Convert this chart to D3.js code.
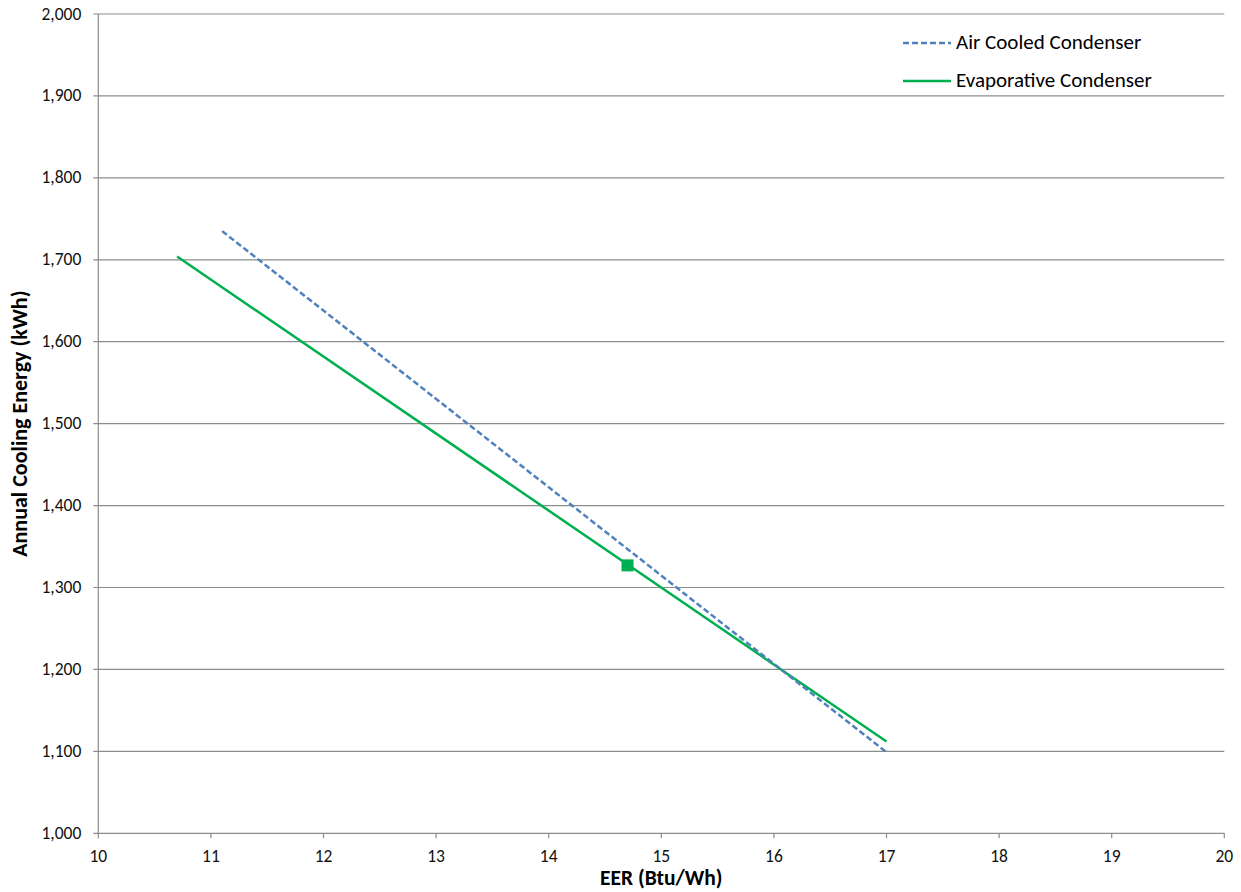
<!DOCTYPE html>
<html><head><meta charset="utf-8">
<script src="https://cdn.jsdelivr.net/npm/d3@7"></script>
<style>body{margin:0;background:#fff;}text{font-family:Carlito,Calibri,"Open Sans","Noto Sans",sans-serif;}</style>
</head><body><svg id="c" width="1241" height="892"></svg>
<script>
const airX = [11.1, 17.0];
const airY = [1735, 1099];
const evapX = [10.7, 17.0];
const evapY = [1704, 1112];
const markerX = [14.7];
const markerY = [1327];
const xTicks = [10,11,12,13,14,15,16,17,18,19,20];
const yTicks = [1000,1100,1200,1300,1400,1500,1600,1700,1800,1900,2000];
const seriesNames = ["Air Cooled Condenser","Evaporative Condenser"];

const svg = d3.select("#c");
const L=98.3, R=1224.3, T=14, B=833.3;
const x = d3.scaleLinear().domain([10,20]).range([L,R]);
const y = d3.scaleLinear().domain([1000,2000]).range([B,T]);
const grid="#8c8c8c";

svg.append("g").selectAll("line").data(yTicks).join("line")
 .attr("x1",L-5).attr("x2",R).attr("y1",d=>y(d)).attr("y2",d=>y(d))
 .attr("stroke",grid).attr("stroke-width",1.2);
svg.append("line").attr("x1",L).attr("x2",L).attr("y1",T).attr("y2",B).attr("stroke",grid).attr("stroke-width",1.2);
svg.append("g").selectAll("line").data(xTicks).join("line")
 .attr("x1",d=>x(d)).attr("x2",d=>x(d)).attr("y1",B).attr("y2",B+5)
 .attr("stroke",grid).attr("stroke-width",1.2);
const fmt=d3.format(",");
svg.append("g").selectAll("text").data(yTicks).join("text")
 .attr("x",L-17).attr("y",d=>y(d)+5.5).attr("text-anchor","end").attr("font-size",17.5).attr("fill","#111").text(d=>fmt(d));
svg.append("g").selectAll("text").data(xTicks).join("text")
 .attr("x",d=>x(d)).attr("y",B+29).attr("text-anchor","middle").attr("font-size",17.5).attr("fill","#111").text(d=>d);
svg.append("text").attr("x",(L+R)/2).attr("y",885).attr("text-anchor","middle").attr("font-size",21.5).attr("font-weight","bold").text("EER (Btu/Wh)");
svg.append("text").attr("transform",`translate(27,${(T+B)/2}) rotate(-90)`).attr("text-anchor","middle").attr("font-size",22).attr("font-weight","bold").text("Annual Cooling Energy (kWh)");

const line=d3.line().x(d=>x(d[0])).y(d=>y(d[1]));
svg.append("path").datum(evapX.map((v,i)=>[v,evapY[i]])).attr("d",line).attr("fill","none").attr("stroke","#00B050").attr("stroke-width",2.5);
svg.append("path").datum(airX.map((v,i)=>[v,airY[i]])).attr("d",line).attr("fill","none").attr("stroke","#4F81BD").attr("stroke-width",2.5).attr("stroke-dasharray","6,3");
svg.selectAll("rect.m").data(markerX.map((v,i)=>[v,markerY[i]])).join("rect").attr("class","m")
 .attr("x",d=>x(d[0])-6).attr("y",d=>y(d[1])-6).attr("width",12).attr("height",12).attr("fill","#00B050");

const lg=svg.append("g");
lg.append("line").attr("x1",903).attr("x2",951).attr("y1",43).attr("y2",43).attr("stroke","#4F81BD").attr("stroke-width",2.5).attr("stroke-dasharray","6,3");
lg.append("text").attr("x",956).attr("y",49).attr("font-size",21).text(seriesNames[0]);
lg.append("line").attr("x1",903).attr("x2",951).attr("y1",81).attr("y2",81).attr("stroke","#00B050").attr("stroke-width",2.5);
lg.append("text").attr("x",956).attr("y",87).attr("font-size",21).text(seriesNames[1]);
</script></body></html>
